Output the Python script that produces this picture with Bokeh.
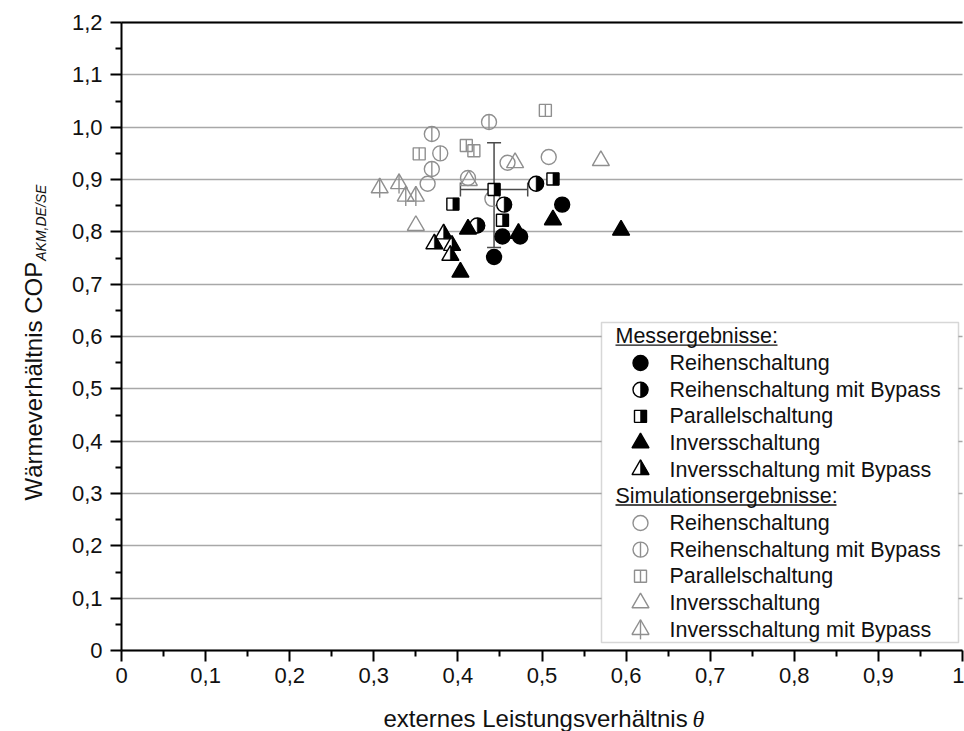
import numpy as np
from bokeh.plotting import figure
from bokeh.models import (FixedTicker, Label, BoxAnnotation, Whisker,
                          ColumnDataSource, TeeHead, Range1d)
from bokeh.embed import file_html
from bokeh.resources import INLINE

# ---------------- data ----------------
x_ticks = [0.0, 0.1, 0.2, 0.3, 0.4, 0.5, 0.6, 0.7, 0.8, 0.9, 1.0]
x_tick_labels = ["0", "0,1", "0,2", "0,3", "0,4", "0,5", "0,6", "0,7", "0,8", "0,9", "1"]
x_minor = [0.05, 0.15, 0.25, 0.35, 0.45, 0.55, 0.65, 0.75, 0.85, 0.95]
y_ticks = [0.0, 0.1, 0.2, 0.3, 0.4, 0.5, 0.6, 0.7, 0.8, 0.9, 1.0, 1.1, 1.2]
y_tick_labels = ["0", "0,1", "0,2", "0,3", "0,4", "0,5", "0,6", "0,7", "0,8", "0,9", "1,0", "1,1", "1,2"]
y_minor = [0.05, 0.15, 0.25, 0.35, 0.45, 0.55, 0.65, 0.75, 0.85, 0.95, 1.05, 1.15]
x_limits = (0.0, 1.0)
y_limits = (0.0, 1.2)

mess_reihe_x = [0.524, 0.453, 0.443, 0.474]
mess_reihe_y = [0.852, 0.791, 0.752, 0.791]
mess_reihe_bypass_x = [0.493, 0.455, 0.423]
mess_reihe_bypass_y = [0.892, 0.852, 0.812]
mess_parallel_x = [0.513, 0.443, 0.453, 0.394]
mess_parallel_y = [0.901, 0.881, 0.822, 0.853]
mess_invers_x = [0.513, 0.594, 0.412, 0.403, 0.472]
mess_invers_y = [0.823, 0.803, 0.805, 0.723, 0.797]
mess_invers_bypass_x = [0.383, 0.372, 0.393, 0.391]
mess_invers_bypass_y = [0.796, 0.777, 0.774, 0.755]

sim_reihe_x = [0.508, 0.364, 0.412, 0.459, 0.441]
sim_reihe_y = [0.943, 0.892, 0.903, 0.932, 0.863]
sim_reihe_bypass_x = [0.437, 0.369, 0.379, 0.369]
sim_reihe_bypass_y = [1.010, 0.987, 0.950, 0.920]
sim_parallel_x = [0.504, 0.354, 0.410, 0.419]
sim_parallel_y = [1.032, 0.949, 0.965, 0.955]
sim_invers_x = [0.570, 0.468, 0.413, 0.350]
sim_invers_y = [0.936, 0.932, 0.898, 0.812]
sim_invers_bypass_x = [0.307, 0.330, 0.338, 0.350]
sim_invers_bypass_y = [0.884, 0.892, 0.868, 0.868]

err_x = [0.443]
err_y = [0.881]
err_y_lower = [0.770]
err_y_upper = [0.970]
err_x_lower = [0.403]
err_x_upper = [0.483]

legend_header_mess = "Messergebnisse:"
legend_header_sim = "Simulationsergebnisse:"
legend_labels = ["Reihenschaltung", "Reihenschaltung mit Bypass", "Parallelschaltung",
                 "Inversschaltung", "Inversschaltung mit Bypass"]

# ---------------- layout ----------------
W, H = 964, 731
AX_LEFT, AX_RIGHT = 121, 962     # pixel position of x = 0 and x = 1
AX_TOP, AX_BOTTOM = 22, 650      # pixel position of y = 1.2 and y = 0
KX = (AX_RIGHT - AX_LEFT) / (x_limits[1] - x_limits[0])
KY = (AX_BOTTOM - AX_TOP) / (y_limits[1] - y_limits[0])


def px_x(px):
    return x_limits[0] + (px - AX_LEFT) / KX


def px_y(py):
    return y_limits[1] - (py - AX_TOP) / KY


FONT = "Liberation Sans"
BLACK = "#000000"
TXT = "#111111"
GREY = "#8f8f8f"
LW = 1.4

p = figure(width=W, height=H, x_range=Range1d(px_x(0), px_x(W)), y_range=Range1d(px_y(H), px_y(0)),
           output_backend="svg", toolbar_location=None, min_border=0)
p.outline_line_color = None
p.background_fill_color = "white"
p.border_fill_color = "white"

p.xaxis.fixed_location = 0.0
p.yaxis.fixed_location = 0.0
p.xaxis.bounds = x_limits
p.yaxis.bounds = y_limits
p.xaxis.ticker = FixedTicker(ticks=x_ticks, minor_ticks=x_minor)
p.yaxis.ticker = FixedTicker(ticks=y_ticks, minor_ticks=y_minor)
p.xaxis.major_label_overrides = {t: l for t, l in zip(x_ticks, x_tick_labels)}
p.yaxis.major_label_overrides = {t: l for t, l in zip(y_ticks, y_tick_labels)}
for ax in (p.xaxis, p.yaxis):
    ax.axis_line_color = BLACK
    ax.axis_line_width = 2
    ax.major_tick_line_color = BLACK
    ax.major_tick_line_width = 2
    ax.minor_tick_line_color = BLACK
    ax.minor_tick_line_width = 2
    ax.major_tick_out = 11
    ax.major_tick_in = 0
    ax.minor_tick_out = 6
    ax.minor_tick_in = 0
    ax.major_label_text_font = FONT
    ax.major_label_text_font_size = "22px"
    ax.major_label_text_color = TXT
p.yaxis.major_label_standoff = 8
p.xaxis.major_label_standoff = 6

p.xgrid.visible = False
grid_ok = True
try:
    p.ygrid.cross_bounds = x_limits
    p.ygrid.bounds = y_limits
except Exception:
    grid_ok = False
if grid_ok:
    p.ygrid.grid_line_color = "#a8a8a8"
    p.ygrid.grid_line_width = 1.5
else:
    p.ygrid.visible = False
    p.segment(x0=[x_limits[0]] * len(y_ticks), x1=[x_limits[1]] * len(y_ticks),
              y0=y_ticks, y1=y_ticks, line_color="#a8a8a8", line_width=1.5, level="underlay")

# top frame line
p.segment(x0=[x_limits[0]], x1=[x_limits[1]], y0=[y_limits[1]], y1=[y_limits[1]],
          line_color=BLACK, line_width=2)

# ---------------- marker helpers ----------------
TRI = 17
CIR = 15
SQ = 12


def m_filled_circle(xs, ys):
    p.scatter(xs, ys, marker="circle", size=CIR, fill_color=BLACK, line_color=BLACK, line_width=LW)


def m_half_circle(xs, ys):
    p.scatter(xs, ys, marker="circle", size=CIR, fill_color="white", line_color=BLACK, line_width=LW)
    p.wedge(xs, ys, radius=CIR / 2, radius_units="screen", start_angle=-np.pi / 2,
            end_angle=np.pi / 2, fill_color=BLACK, line_color=BLACK, line_width=0.5)


def m_half_square(xs, ys):
    xs = np.asarray(xs, float)
    ys = np.asarray(ys, float)
    p.scatter(xs, ys, marker="square", size=SQ, fill_color="white", line_color=BLACK, line_width=LW)
    p.quad(left=xs, right=xs + (SQ / 2) / KX, bottom=ys - (SQ / 2) / KY, top=ys + (SQ / 2) / KY,
           fill_color=BLACK, line_color=BLACK, line_width=0.5)


def m_filled_tri(xs, ys):
    p.scatter(xs, ys, marker="triangle", size=TRI, fill_color=BLACK, line_color=BLACK, line_width=LW)


def m_half_tri(xs, ys):
    xs = np.asarray(xs, float)
    ys = np.asarray(ys, float)
    p.scatter(xs, ys, marker="triangle", size=TRI, fill_color="white", line_color=BLACK, line_width=LW)
    r = TRI / 2
    h = r * np.sqrt(3)
    a = h / 3
    pxs = [[x, x + r / KX, x] for x in xs]
    pys = [[y - a / KY, y - a / KY, y + (h - a) / KY] for y in ys]
    p.patches(pxs, pys, fill_color=BLACK, line_color=BLACK, line_width=0.5)


def m_open_circle(xs, ys):
    p.scatter(xs, ys, marker="circle", size=CIR, fill_color=None, line_color=GREY, line_width=LW)


def m_bar_circle(xs, ys):
    m_open_circle(xs, ys)
    p.scatter(xs, ys, marker="dash", size=CIR, angle=np.pi / 2, line_color=GREY, line_width=LW)


def m_bar_square(xs, ys):
    p.scatter(xs, ys, marker="square", size=SQ, fill_color=None, line_color=GREY, line_width=LW)
    p.scatter(xs, ys, marker="dash", size=SQ, angle=np.pi / 2, line_color=GREY, line_width=LW)


def m_open_tri(xs, ys):
    p.scatter(xs, ys, marker="triangle", size=TRI, fill_color=None, line_color=GREY, line_width=LW)


def m_bar_tri(xs, ys):
    m_open_tri(xs, ys)
    h = (TRI / 2) * np.sqrt(3)
    p.scatter(xs, ys, marker="dash", size=4 * h / 3, angle=np.pi / 2, line_color=GREY, line_width=LW)


# ---------------- data marks ----------------
m_bar_circle(sim_reihe_bypass_x, sim_reihe_bypass_y)
m_bar_square(sim_parallel_x, sim_parallel_y)
m_open_circle(sim_reihe_x, sim_reihe_y)
m_open_tri(sim_invers_x, sim_invers_y)
m_bar_tri(sim_invers_bypass_x, sim_invers_bypass_y)

err_src = ColumnDataSource(dict(x=err_x, y=err_y, ylo=err_y_lower, yhi=err_y_upper,
                                xlo=err_x_lower, xhi=err_x_upper))
EC = "#4a4a4a"
p.add_layout(Whisker(source=err_src, base="x", lower="ylo", upper="yhi", dimension="height",
                     line_color=EC, line_width=1.5,
                     upper_head=TeeHead(size=14, line_color=EC, line_width=1.5),
                     lower_head=TeeHead(size=14, line_color=EC, line_width=1.5)))
p.add_layout(Whisker(source=err_src, base="y", lower="xlo", upper="xhi", dimension="width",
                     line_color=EC, line_width=1.5,
                     upper_head=TeeHead(size=14, line_color=EC, line_width=1.5),
                     lower_head=TeeHead(size=14, line_color=EC, line_width=1.5)))

m_filled_circle(mess_reihe_x, mess_reihe_y)
m_half_circle(mess_reihe_bypass_x, mess_reihe_bypass_y)
m_half_square(mess_parallel_x, mess_parallel_y)
m_filled_tri(mess_invers_x, mess_invers_y)
m_half_tri(mess_invers_bypass_x, mess_invers_bypass_y)

# ---------------- legend ----------------
box = BoxAnnotation(left=px_x(601), right=px_x(958), top=px_y(322), bottom=px_y(642),
                    fill_color="white", fill_alpha=1.0, line_color="#7a7a7a", line_width=1.5,
                    level="underlay")
p.add_layout(box)

LEG_FS = "21.5px"
ROW0, ROWD = 335.9, 26.65
GLYPH_X = px_x(640)
TEXT_X = px_x(669)
HEAD_X = px_x(615)


def row_y(i):
    return px_y(ROW0 + ROWD * i)


def header(i, text, width_px):
    p.add_layout(Label(x=HEAD_X, y=row_y(i), text=text, text_font=FONT,
                       text_font_size=LEG_FS, text_baseline="middle", text_align="left",
                       text_color=TXT))
    p.add_layout(BoxAnnotation(left=HEAD_X, right=px_x(615 + width_px),
                               top=px_y(ROW0 + ROWD * i + 8.0), bottom=px_y(ROW0 + ROWD * i + 9.4),
                               fill_color=TXT, fill_alpha=1.0, line_alpha=0))


header(0, legend_header_mess, 162)
header(6, legend_header_sim, 221)

mess_funcs = [m_filled_circle, m_half_circle, m_half_square, m_filled_tri, m_half_tri]
sim_funcs = [m_open_circle, m_bar_circle, m_bar_square, m_open_tri, m_bar_tri]
for k, (lab, f) in enumerate(zip(legend_labels, mess_funcs)):
    f([GLYPH_X], [row_y(1 + k)])
    p.add_layout(Label(x=TEXT_X, y=row_y(1 + k), text=lab, text_font=FONT,
                       text_font_size=LEG_FS, text_baseline="middle", text_color=TXT))
for k, (lab, f) in enumerate(zip(legend_labels, sim_funcs)):
    f([GLYPH_X], [row_y(7 + k)])
    p.add_layout(Label(x=TEXT_X, y=row_y(7 + k), text=lab, text_font=FONT,
                       text_font_size=LEG_FS, text_baseline="middle", text_color=TXT))

# ---------------- axis titles ----------------
TITLE_FS = "24px"
p.add_layout(Label(x=px_x(383), y=px_y(718), text="externes Leistungsverhältnis ",
                   text_font=FONT, text_font_size=TITLE_FS, text_baseline="alphabetic",
                   text_align="left", text_color=TXT))
p.add_layout(Label(x=px_x(692), y=px_y(718), text="θ",
                   text_font="Liberation Serif", text_font_style="italic",
                   text_font_size=TITLE_FS, text_baseline="alphabetic",
                   text_align="left", text_color=TXT))

YT_FS = 24
YT_START = 500
YT_BASE = 33
w_main = 7.779 * YT_FS
w_cop = 2.167 * YT_FS
p.add_layout(Label(x=px_x(YT_BASE), y=px_y(YT_START), text="Wärmeverhältnis ", angle=np.pi / 2,
                   text_font=FONT, text_font_size=f"{YT_FS}px", text_baseline="alphabetic",
                   text_align="left", text_color=TXT))
p.add_layout(Label(x=px_x(YT_BASE), y=px_y(YT_START - w_main), text="COP", angle=np.pi / 2,
                   text_font=FONT, text_font_size=f"{YT_FS}px",
                   text_baseline="alphabetic", text_align="left", text_color=TXT))
p.add_layout(Label(x=px_x(YT_BASE + 7), y=px_y(YT_START - w_main - w_cop - 1), text="AKM,DE/SE",
                   angle=np.pi / 2, text_font=FONT, text_font_style="italic", text_font_size="14px",
                   text_baseline="alphabetic", text_align="left", text_color=TXT))

open("out.html", "w").write(file_html(p, INLINE))
